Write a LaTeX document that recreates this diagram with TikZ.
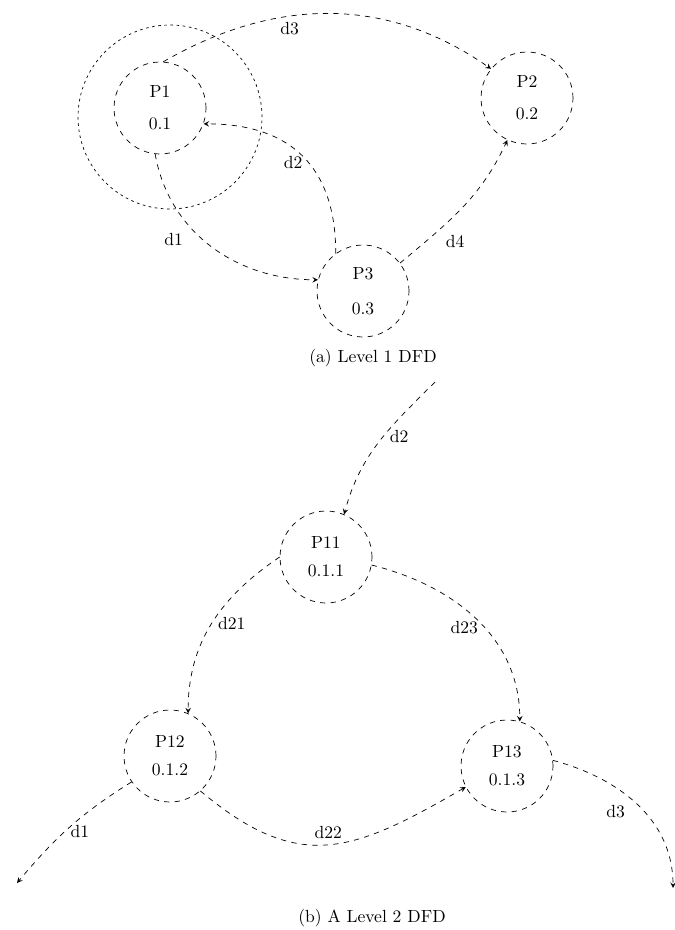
\documentclass[tikz,border=0pt]{standalone}
\usepackage{tikz}
\usetikzlibrary{arrows.meta}

\tikzset{
    proc/.style={draw, dashed, circle, minimum size=1.84cm, inner sep=0pt, align=center},
    flow/.style={->, dashed},
}

\begin{document}
\begin{tikzpicture}[x=0.02cm, y=0.02cm, >=stealth, auto]
        \useasboundingbox (0,0) rectangle (674,-930);

        % Level 1 processes
        \node[draw, circle, dash pattern=on 1.5pt off 2pt, minimum size=3.68cm] (grp) at (170,-117) {};
        \node[proc] (p1) at (160,-108) {P1\\[6pt]0.1};
        \node[proc] (p2) at (527,-98) {P2\\[6pt]0.2};
        \node[proc] (p3) at (363,-291) {P3\\[8pt]0.3};
        \node (capa) at (373,-358) {(a) Level 1 DFD};

        % Level 1 flows
        \draw[flow] (p1.86) to[out=30, in=145] node[pos=0.38, below] {d3} (p2.141);
        \draw[flow] (p1.264) to[out=-80, in=180] node[pos=0.45, left=8pt] {d1} (p3.166);
        \draw[flow] (p3.126) to[out=90, in=0, looseness=1.2] node[pos=0.45, left] {d2} (p1.-20);
        \draw[flow] (p3.37) to[out=40, in=-115] node[pos=0.3, below right] {d4} (p2.245);

        % Level 2 processes
        \node[proc] (p11) at (326,-557) {P11\\[4pt]0.1.1};
        \node[proc] (p12) at (170,-756) {P12\\[4pt]0.1.2};
        \node[proc] (p13) at (507,-766) {P13\\[4pt]0.1.3};
        \coordinate (d2in) at (435,-382);
        \coordinate (d1out) at (17,-883);
        \coordinate (d3out) at (673,-888);
        \node (capb) at (372,-918) {(b) A Level 2 DFD};

        % Level 2 flows
        \draw[flow] (d2in) to[out=225, in=75] node[pos=0.45, right] {d2} (p11.67);
        \draw[flow] (p11.180) to[out=214, in=90] node[pos=0.5, right] {d21} (p12.67);
        \draw[flow] (p11.-10) to[out=-14, in=90] node[pos=0.55, left] {d23} (p13.74);
        \draw[flow] (p12.-49) to[out=-40, in=-150, looseness=1.25] node[pos=0.5, above] {d22} (p13.207);
        \draw[flow] (p12.214) to[out=212, in=50] node[pos=0.55, right] {d1} (d1out);
        \draw[flow] (p13.7) to[out=-15, in=90] node[pos=0.45, below left] {d3} (d3out);
    \end{tikzpicture}
\end{document}
